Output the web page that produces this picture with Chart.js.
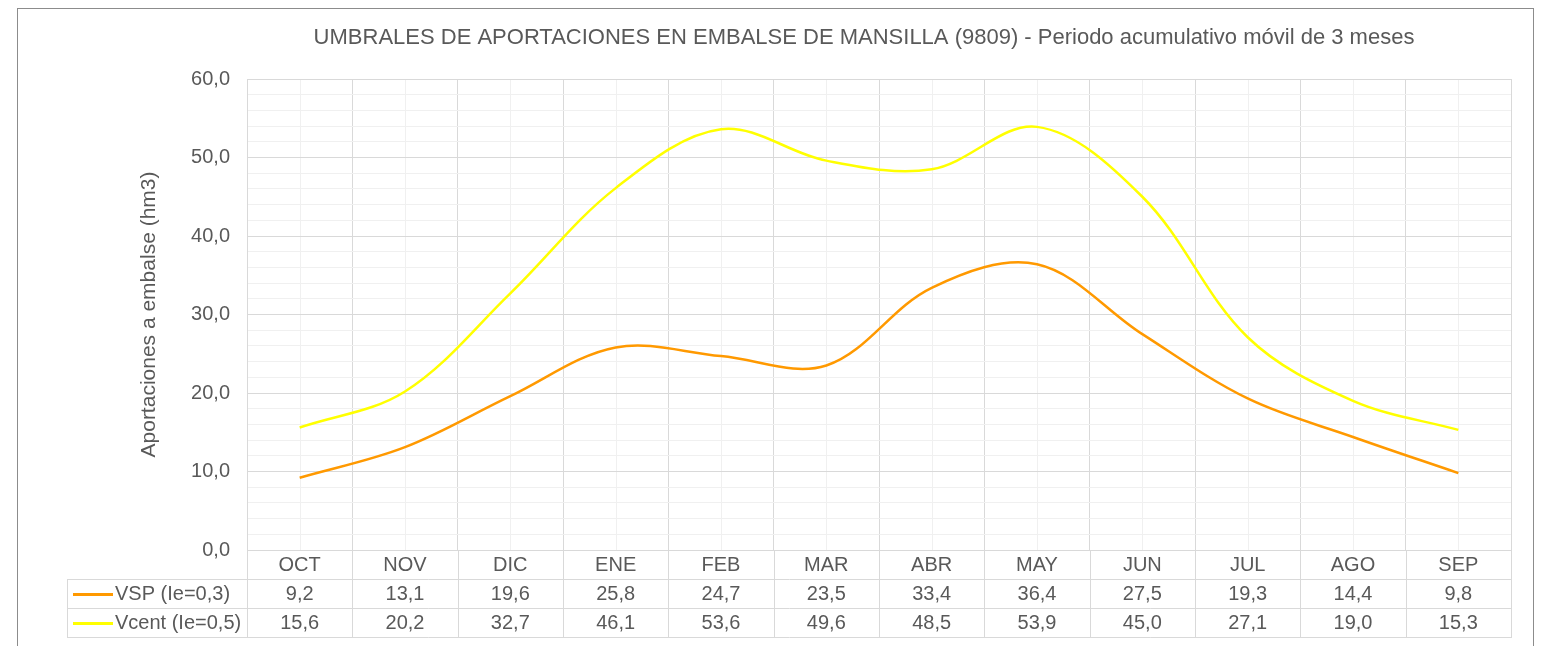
<!DOCTYPE html>
<html>
<head>
<meta charset="utf-8">
<script src="https://cdn.jsdelivr.net/npm/chart.js@4.4.1/dist/chart.umd.min.js"></script>
<style>
  html, body { margin: 0; padding: 0; background: #ffffff; }
  #wrap { width: 1547px; height: 646px; }
</style>
</head>
<body>
<div id="wrap"><canvas id="c" width="1547" height="646"></canvas></div>
<script>
const chartTitle = 'UMBRALES DE APORTACIONES EN EMBALSE DE MANSILLA (9809) - Periodo acumulativo móvil de 3 meses';
const yAxisTitle = 'Aportaciones a embalse (hm3)';
const categories = ['OCT', 'NOV', 'DIC', 'ENE', 'FEB', 'MAR', 'ABR', 'MAY', 'JUN', 'JUL', 'AGO', 'SEP'];
const seriesNames = ['VSP (Ie=0,3)', 'Vcent (Ie=0,5)'];
const vspValues = [9.2, 13.1, 19.6, 25.8, 24.7, 23.5, 33.4, 36.4, 27.5, 19.3, 14.4, 9.8];
const vcentValues = [15.6, 20.2, 32.7, 46.1, 53.6, 49.6, 48.5, 53.9, 45.0, 27.1, 19.0, 15.3];
const yMin = 0, yMax = 60, yMajorStep = 10, yMinorStep = 2;

const FONT = "'Liberation Sans', Arial, sans-serif";
const TEXT = '#595959';
const GRID_MAJOR = '#d9d9d9';
const GRID_MINOR = '#f0f0f0';
const COLORS = ['#ff9900', '#ffff00'];
const FS = 20;

function fmt(v) { return v.toFixed(1).replace('.', ','); }

const tablePlugin = {
  id: 'tablePlugin',
  beforeDraw(chart) {
    const ctx = chart.ctx;
    const ca = chart.chartArea;
    const x = chart.scales.x;
    ctx.save();
    ctx.fillStyle = '#ffffff';
    ctx.fillRect(0, 0, chart.width, chart.height);
    // minor vertical gridlines at category centres
    ctx.strokeStyle = GRID_MINOR;
    ctx.lineWidth = 1;
    for (let i = 0; i < categories.length; i++) {
      const px = Math.round(x.getPixelForValue(i)) + 0.5;
      ctx.beginPath();
      ctx.moveTo(px, ca.top);
      ctx.lineTo(px, ca.bottom);
      ctx.stroke();
    }
    ctx.restore();
  },
  afterDraw(chart) {
    const ctx = chart.ctx;
    const ca = chart.chartArea;
    const x = chart.scales.x;
    const rowH = 29;
    const headerH = 29;
    const tableLeft = 67;
    const rows = [vspValues, vcentValues];
    const step = (ca.right - ca.left) / categories.length;
    ctx.save();
    ctx.strokeStyle = GRID_MAJOR;
    ctx.lineWidth = 1;
    const tableBottom = ca.bottom + headerH + rows.length * rowH;
    // vertical lines at category boundaries
    for (let i = 0; i <= categories.length; i++) {
      const px = Math.round(ca.left + i * step) + 0.5;
      ctx.beginPath();
      ctx.moveTo(px, ca.bottom);
      ctx.lineTo(px, tableBottom);
      ctx.stroke();
    }
    // left border of legend column
    ctx.beginPath();
    ctx.moveTo(tableLeft + 0.5, ca.bottom + headerH);
    ctx.lineTo(tableLeft + 0.5, tableBottom);
    ctx.stroke();
    // horizontal lines
    for (let r = 0; r <= rows.length; r++) {
      const py = Math.round(ca.bottom + headerH + r * rowH) + 0.5;
      ctx.beginPath();
      ctx.moveTo(tableLeft, py);
      ctx.lineTo(ca.right + 1, py);
      ctx.stroke();
    }
    // row content
    ctx.font = FS + 'px ' + FONT;
    ctx.textBaseline = 'middle';
    rows.forEach((vals, r) => {
      const cy = ca.bottom + headerH + r * rowH + rowH / 2 + 1;
      // legend key
      ctx.strokeStyle = COLORS[r];
      ctx.lineWidth = 3;
      ctx.beginPath();
      ctx.moveTo(73, cy);
      ctx.lineTo(113, cy);
      ctx.stroke();
      ctx.fillStyle = TEXT;
      ctx.textAlign = 'left';
      ctx.fillText(seriesNames[r], 115, cy);
      ctx.textAlign = 'center';
      vals.forEach((v, i) => {
        ctx.fillText(fmt(v), x.getPixelForValue(i), cy);
      });
    });
    // title
    ctx.fillStyle = TEXT;
    ctx.font = '22px ' + FONT;
    ctx.textAlign = 'center';
    ctx.textBaseline = 'middle';
    ctx.fillText(chartTitle, (ca.left + ca.right) / 2 - 15, 38);
    // outer border
    ctx.strokeStyle = '#8c8c8c';
    ctx.lineWidth = 1;
    ctx.strokeRect(17.5, 8.5, 1516, chart.height + 20);
    ctx.restore();
  }
};

new Chart(document.getElementById('c'), {
  type: 'line',
  data: {
    labels: categories,
    datasets: [
      { label: seriesNames[0], data: vspValues, borderColor: COLORS[0], backgroundColor: COLORS[0], borderWidth: 2.5, pointRadius: 0, tension: 0.35, fill: false },
      { label: seriesNames[1], data: vcentValues, borderColor: COLORS[1], backgroundColor: COLORS[1], borderWidth: 2.5, pointRadius: 0, tension: 0.35, fill: false }
    ]
  },
  options: {
    responsive: false,
    animation: false,
    devicePixelRatio: 1,
    layout: { padding: { left: 0, right: 36, top: 79, bottom: 0 } },
    plugins: {
      legend: { display: false },
      title: { display: false },
      tooltip: { enabled: false }
    },
    scales: {
      x: {
        type: 'category',
        offset: true,
        grid: { offset: true, color: GRID_MAJOR, drawTicks: false, lineWidth: 1 },
        border: { color: GRID_MAJOR },
        ticks: { color: TEXT, font: { family: FONT, size: FS }, padding: 3, maxRotation: 0, autoSkip: false },
        afterFit(scale) { scale.height = 96; }
      },
      y: {
        min: yMin,
        max: yMax,
        grid: {
          drawTicks: false,
          lineWidth: 1,
          color: (c) => (c.tick && Math.abs(c.tick.value % yMajorStep) < 1e-9) ? GRID_MAJOR : GRID_MINOR
        },
        border: { color: GRID_MAJOR },
        ticks: {
          stepSize: yMinorStep,
          autoSkip: false,
          color: TEXT,
          font: { family: FONT, size: FS },
          padding: 17,
          callback: (v) => (Math.abs(v % yMajorStep) < 1e-9) ? fmt(v) : ''
        },
        title: {
          display: true,
          text: yAxisTitle,
          color: TEXT,
          font: { family: FONT, size: 21 },
          padding: { top: 137, bottom: 0 }
        },
        afterFit(scale) { scale.width = 247; }
      }
    }
  },
  plugins: [tablePlugin]
});
</script>
</body>
</html>
